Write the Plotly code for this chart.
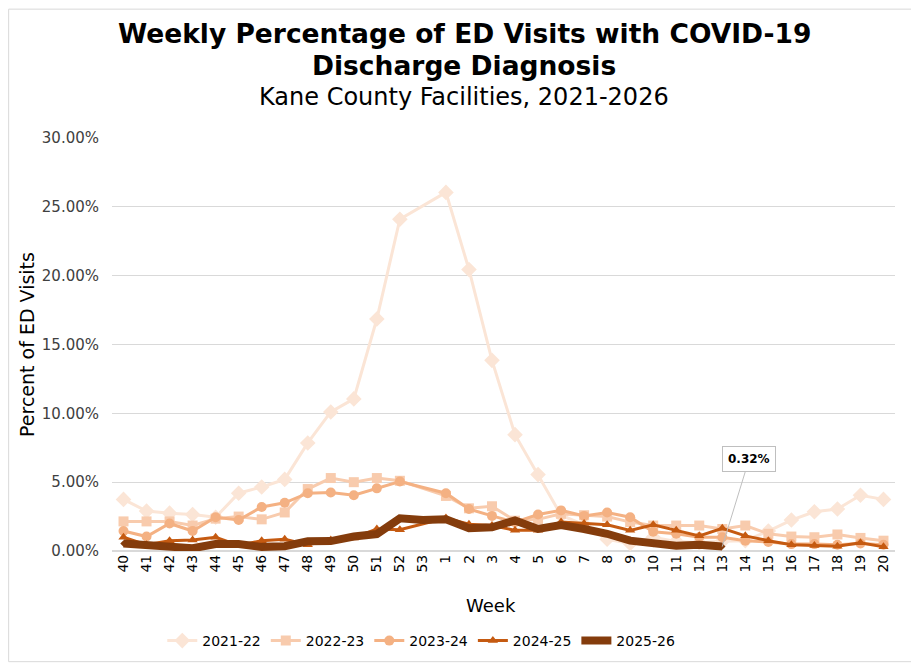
"""Weekly % of ED visits with COVID-19 discharge diagnosis, Kane County, 2021-2026."""

import plotly.graph_objects as go

FONT = "Verdana, DejaVu Sans, sans-serif"

# MMWR weeks, season runs week 40 -> week 20
weeks = [str(w) for w in list(range(40, 54)) + list(range(1, 21))]

# percent of ED visits (None = no data for that week)
season_2021_22 = [3.75, 2.9, 2.75, 2.65, 2.45, 4.2, 4.65, 5.2, 7.85, 10.1, 11.05, 16.85, 24.1, None,
                  26.05, 20.45, 13.85, 8.45, 5.55, 2.6, 1.9, 0.85, 0.55, 1.0, 0.7, 0.6, 0.7,
                  0.75, 1.45, 2.25, 2.85, 3.05, 4.05, 3.75]
season_2022_23 = [2.15, 2.15, 2.15, 1.85, 2.35, 2.5, 2.3, 2.8, 4.5, 5.3, 5.0, 5.3, 5.1, None,
                  4.0, 3.1, 3.25, 2.2, 2.3, 2.7, 2.6, 2.5, 2.1, 1.85, 1.85, 1.85, 1.6,
                  1.85, 1.25, 1.05, 1.0, 1.2, 0.95, 0.75]
season_2023_24 = [1.45, 1.05, 2.0, 1.45, 2.45, 2.25, 3.2, 3.5, 4.2, 4.25, 4.05, 4.55, 5.05, None,
                  4.2, 3.05, 2.55, 2.1, 2.65, 2.95, 2.55, 2.8, 2.45, 1.4, 1.25, 1.0, 1.0,
                  0.75, 0.65, 0.5, 0.5, 0.45, 0.55, 0.45]
season_2024_25 = [1.0, 0.45, 0.75, 0.8, 1.0, 0.4, 0.75, 0.85, 0.45, 0.8, 0.95, 1.6, 1.55, None,
                  2.4, 1.95, 1.85, 1.5, 1.5, 2.1, 2.0, 1.9, 1.5, 1.9, 1.5, 1.1, 1.65,
                  1.1, 0.75, 0.45, 0.4, 0.35, 0.6, 0.3]
season_2025_26 = [0.55, 0.4, 0.3, 0.2, 0.5, 0.5, 0.3, 0.35, 0.7, 0.72, 1.05, 1.23, 2.37, 2.25,
                  2.3, 1.65, 1.72, 2.22, 1.6, 1.88, 1.6, 1.25, 0.75, 0.5, 0.39, 0.45, 0.32,
                  None, None, None, None, None, None, None]

latest_week = "13"
latest_label = "0.32%"

series = [
    ("2021-22", season_2021_22, "#FBE5D6", "diamond", 12, 3),
    ("2022-23", season_2022_23, "#F8CBAD", "square", 10, 3),
    ("2023-24", season_2023_24, "#F4B183", "circle", 10, 3),
    ("2024-25", season_2024_25, "#C55A11", "triangle-up", 9, 3),
    ("2025-26", season_2025_26, "#843C0C", "diamond", 5, 8),
]

fig = go.Figure()
for name, vals, color, symbol, msize, lw in series:
    fig.add_trace(go.Scatter(
        x=weeks,
        y=vals,
        name=name,
        mode="lines+markers",
        connectgaps=True,
        line=dict(color=color, width=lw),
        marker=dict(symbol=symbol, size=msize, color=color),
    ))

# data label on the latest point; category axes take the index here
idx = weeks.index(latest_week)
fig.add_annotation(
    x=idx, y=season_2025_26[idx],
    text=f"<b>{latest_label}</b>",
    showarrow=True, arrowhead=0, arrowwidth=1, arrowcolor="#bfbfbf",
    ax=27, ay=-88,
    bgcolor="white", bordercolor="#bfbfbf", borderwidth=1, borderpad=5,
    font=dict(family=FONT, size=12, color="black"),
)

# title block
for text, ypos, size in [
    ("<b>Weekly Percentage of ED Visits with COVID-19</b>", 1.254, 26.5),
    ("<b>Discharge Diagnosis</b>", 1.176, 26.5),
    ("Kane County Facilities, 2021-2026", 1.099, 24),
]:
    fig.add_annotation(
        text=text, xref="paper", yref="paper", x=0.45, y=ypos,
        xanchor="center", yanchor="middle", showarrow=False,
        font=dict(family=FONT, size=size, color="black"),
    )

# x axis title, sits a little left of the plot centre like the original
fig.add_annotation(
    text="Week", xref="paper", yref="paper", x=0.484, y=-0.133,
    xanchor="center", yanchor="middle", showarrow=False,
    font=dict(family=FONT, size=18, color="black"),
)

# chart border
fig.add_shape(
    type="rect", xref="paper", yref="paper",
    x0=-0.132, x1=1.022, y0=-0.268, y1=1.312,
    line=dict(color="#d9d9d9", width=1),
)

# page body has an 8px margin, so the figure is a bit smaller than the window
fig.update_layout(
    width=911,
    height=660,
    margin=dict(l=104, r=24, t=130, b=116),
    paper_bgcolor="white",
    plot_bgcolor="white",
    font=dict(family=FONT, color="black"),
    showlegend=True,
    legend=dict(
        orientation="h", x=0.395, xanchor="center", y=-0.215, yanchor="middle",
        font=dict(family=FONT, size=14, color="black"),
    ),
)
fig.update_xaxes(
    type="category",
    categoryorder="array",
    categoryarray=weeks,
    range=[-0.5, len(weeks) - 0.5],
    tickangle=-90,
    tickfont=dict(size=14, color="black"),
    showgrid=False,
    showline=False,
)
fig.update_yaxes(
    range=[0, 30],
    dtick=5,
    tickformat=".2f",
    ticksuffix="%",
    tickfont=dict(size=15, color="#404040"),
    showgrid=True,
    gridcolor="#d9d9d9",
    zeroline=True,
    zerolinecolor="#d9d9d9",
    showline=False,
    ticklabelstandoff=12,
    title=dict(text="Percent of ED Visits", font=dict(size=19, color="black"), standoff=2),
)

fig.write_html("out.html")
